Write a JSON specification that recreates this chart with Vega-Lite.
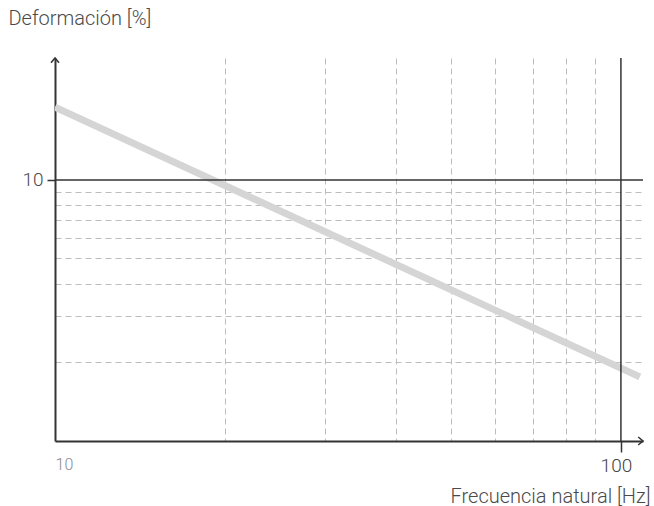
{
  "$schema": "https://vega.github.io/schema/vega-lite/v6.json",
  "width": 588,
  "height": 383,
  "autosize": {"type": "none"},
  "padding": {"left": 55, "top": 58, "right": 11, "bottom": 65},
  "background": "white",
  "config": {
    "view": {"stroke": null},
    "font": "Roboto",
    "axis": {"labelFont": "Roboto", "titleFont": "Roboto", "titleFontWeight": 300, "labelFontWeight": 300}
  },
  "layer": [
    {
      "data": {"values": [{"f": 10, "d": 19.0}, {"f": 108, "d": 1.76}]},
      "mark": {"type": "line", "color": "#d5d5d5", "strokeWidth": 7, "strokeCap": "butt", "clip": true},
      "encoding": {
        "x": {
          "field": "f",
          "type": "quantitative",
          "scale": {"type": "log", "domain": [10, 109.4], "nice": false},
          "axis": {
            "values": [10, 20, 30, 40, 50, 60, 70, 80, 90, 100],
            "grid": true,
            "gridColor": {"condition": {"test": "datum.value == 10 || datum.value == 100", "value": "transparent"}, "value": "#bdbdbd"},
            "gridDash": [6, 4],
            "gridWidth": 1,
            "domainColor": "#333333",
            "domainWidth": 2,
            "tickColor": {"condition": {"test": "datum.value == 100", "value": "#333333"}, "value": "transparent"},
            "tickSize": 11,
            "tickWidth": 1.5,
            "labelExpr": "datum.value == 10 || datum.value == 100 ? format(datum.value, 'd') : ''",
            "labelColor": {"condition": {"test": "datum.value == 10", "value": "#8a8a8a"}, "value": "#444444"},
            "labelFontSize": {"condition": {"test": "datum.value == 10", "value": 16}, "value": 19},
            "labelAlign": {"condition": {"test": "datum.value == 10", "value": "left"}, "value": "center"},
            "labelOffset": {"condition": {"test": "datum.value == 100", "value": -5}, "value": 0},
            "labelPadding": 4,
            "labelBound": false,
            "labelFlush": false,
            "labelOverlap": false,
            "title": "Frecuencia natural [Hz]",
            "titleFontSize": 20,
            "titleColor": "#4a4a4a",
            "titleAnchor": "end",
            "titleAlign": "right",
            "titleBaseline": "alphabetic",
            "titleX": 595,
            "titleY": 61
          }
        },
        "y": {
          "field": "d",
          "type": "quantitative",
          "scale": {"type": "log", "domain": [1, 29.3], "nice": false},
          "axis": {
            "values": [2, 3, 4, 5, 6, 7, 8, 9, 10],
            "grid": true,
            "gridColor": {"condition": {"test": "datum.value == 10", "value": "transparent"}, "value": "#bdbdbd"},
            "gridDash": [6, 4],
            "gridWidth": 1,
            "domainColor": "#333333",
            "domainWidth": 2,
            "tickColor": {"condition": {"test": "datum.value == 10", "value": "#333333"}, "value": "transparent"},
            "tickSize": 8,
            "tickWidth": 1.5,
            "labelExpr": "datum.value == 10 ? '10' : ''",
            "labelColor": "#4a4a4a",
            "labelFontSize": 19,
            "labelPadding": 4,
            "labelOverlap": false,
            "title": "Deformación [%]",
            "titleFontSize": 20,
            "titleColor": "#4a4a4a",
            "titleAngle": 0,
            "titleAnchor": "start",
            "titleAlign": "left",
            "titleBaseline": "alphabetic",
            "titleX": -47,
            "titleY": -34
          }
        }
      }
    },
    {
      "data": {"values": [{"d": 10}]},
      "mark": {"type": "rule", "color": "#333333", "strokeWidth": 1.5},
      "encoding": {"y": {"field": "d", "type": "quantitative"}}
    },
    {
      "data": {"values": [{"f": 100}]},
      "mark": {"type": "rule", "color": "#333333", "strokeWidth": 1.5},
      "encoding": {"x": {"field": "f", "type": "quantitative"}}
    },
    {
      "data": {"values": [{"f": 10, "d": 29.3}]},
      "mark": {"type": "point", "shape": "M -1 1.2 L 0 0 L 1 1.2", "filled": false, "size": 64, "stroke": "#333333", "strokeWidth": 1.5, "opacity": 1},
      "encoding": {"x": {"field": "f", "type": "quantitative"}, "y": {"field": "d", "type": "quantitative"}}
    },
    {
      "data": {"values": [{"f": 109.4, "d": 1}]},
      "mark": {"type": "point", "shape": "M -1.2 -1 L 0 0 L -1.2 1", "filled": false, "size": 64, "stroke": "#333333", "strokeWidth": 1.5, "opacity": 1},
      "encoding": {"x": {"field": "f", "type": "quantitative"}, "y": {"field": "d", "type": "quantitative"}}
    }
  ]
}
